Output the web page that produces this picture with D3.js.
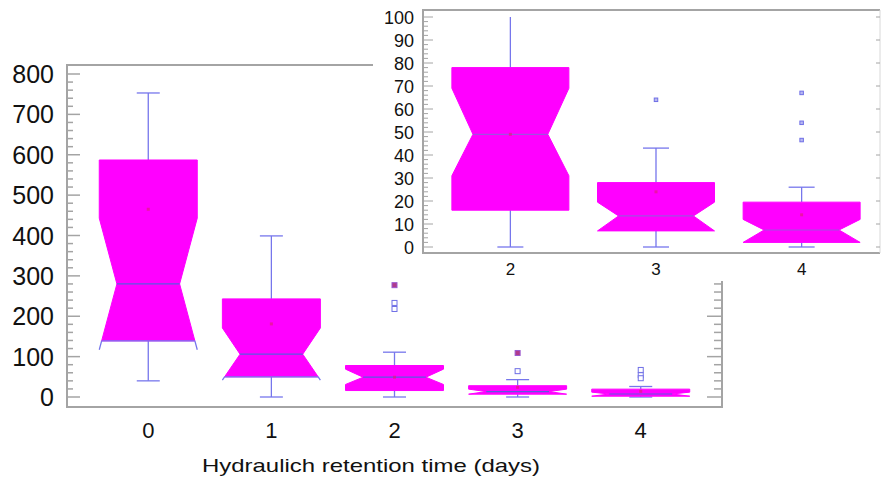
<!DOCTYPE html>
<html lang="en">
<head>
  <meta charset="UTF-8">
  <title>Notched box plot with inset</title>
  <script src="https://d3js.org/d3.v7.min.js"></script>
  <style>
    body { margin: 0; background: #fff; }
    svg { display: block; font-family: "Liberation Sans", Arial, sans-serif; }
  </style>
</head>
<body>
  <svg width="884" height="490"></svg>
  <script>
    // values, one entry per retention time
    const categories = ["0", "1", "2", "3", "4"];
    const q1 = [139, 50, 16, 7, 2];
    const medians = [280, 106, 49, 13.5, 7.4];
    const q3 = [587, 243, 78, 28, 19.5];
    const whiskerLow = [40, 0, 0, 0, 0];
    const whiskerHigh = [753, 399, 111, 43, 26];
    const notchLow = [117, 42, 31, 7, 2];
    const notchHigh = [443, 171, 69, 19.5, 12];
    const means = [465, 181, 49, 24, 14];
    const outliers = [[], [], [233, 218], [64], [67, 54, 46.5]];
    const farOutliers = [[], [], [277], [109], []];

    const insetCategories = ["2", "3", "4"];
    const mainTicks = [0, 100, 200, 300, 400, 500, 600, 700, 800];
    const insetTicks = [0, 10, 20, 30, 40, 50, 60, 70, 80, 90, 100];
    const xTitle = "Hydraulich retention time (days)";

    const rows = categories.map((c, i) => ({
      cat: c, q1: q1[i], med: medians[i], q3: q3[i],
      lo: whiskerLow[i], hi: whiskerHigh[i],
      nLo: notchLow[i], nHi: notchHigh[i], mean: means[i],
      out: outliers[i], far: farOutliers[i]
    }));

    const svg = d3.select("svg");
    const MAG = "#ff00ff", BLUE = "#7676ec", AXIS = "#a4a4a4";

    function drawBox(g, d, x, y, halfW, capW, style) {
      const cx = x(d.cat);
      const xL = cx - halfW, xR = cx + halfW, ind = halfW * 0.36;
      const yQ3 = y(d.q3), yQ1 = y(d.q1), yM = y(d.med);
      const yNh = y(d.nHi), yNl = y(d.nLo);

      // whiskers
      const wg = g.append("g").attr("stroke", BLUE).attr("stroke-width", 1.3);
      wg.append("line").attr("x1", cx).attr("x2", cx).attr("y1", yQ3).attr("y2", y(d.hi));
      wg.append("line").attr("x1", cx).attr("x2", cx).attr("y1", yQ1).attr("y2", y(d.lo));
      wg.append("line").attr("x1", cx - capW).attr("x2", cx + capW).attr("y1", y(d.hi)).attr("y2", y(d.hi));
      wg.append("line").attr("x1", cx - capW).attr("x2", cx + capW).attr("y1", y(d.lo)).attr("y2", y(d.lo));

      // lower end of the notch may fall below Q1
      let xRq = xR, xLq = xL, yBot = yNl;
      if (d.nLo < d.q1) {
        const t = (yQ1 - yM) / (yNl - yM);
        xRq = xR - ind + ind * t;
        xLq = xL + ind - ind * t;
        yBot = yQ1;
      }
      const pts = [[xL, yQ3], [xR, yQ3], [xR, yNh], [xR - ind, yM], [xRq, yBot],
                   [xLq, yBot], [xL + ind, yM], [xL, yNh]];
      if (d.nLo >= d.q1) pts.splice(5, 0, [xL, yQ1]), pts.splice(5, 0, [xR, yQ1]);
      g.append("polygon").attr("points", pts.map(p => p.join(",")).join(" "))
        .attr("fill", MAG).attr("stroke", MAG).attr("stroke-width", 1);

      g.append("line").attr("x1", xL + ind).attr("x2", xR - ind).attr("y1", yM).attr("y2", yM)
        .attr("stroke", style.median).attr("stroke-width", 1.2);
      if (d.nLo < d.q1) {
        g.append("line").attr("x1", xLq).attr("x2", xRq).attr("y1", yQ1).attr("y2", yQ1)
          .attr("stroke", BLUE).attr("stroke-width", 1.3);
        g.append("path").attr("d", `M${xRq},${yQ1}L${xR},${yNl}M${xLq},${yQ1}L${xL},${yNl}`)
          .attr("stroke", BLUE).attr("stroke-width", 1.3).attr("fill", "none");
      }

      // mean marker
      g.append("rect").attr("x", cx - 1.5).attr("y", y(d.mean) - 1.5).attr("width", 3).attr("height", 3)
        .attr("fill", "#e0206a").attr("opacity", 0.6);

      // outliers
      const s = style.pt;
      d.out.forEach(v => {
        g.append("rect").attr("x", cx - s / 2).attr("y", y(v) - s / 2).attr("width", s).attr("height", s)
          .attr("fill", style.openFill).attr("stroke", "#6f6fe6").attr("stroke-width", 1);
      });
      d.far.forEach(v => {
        g.append("rect").attr("x", cx - s / 2).attr("y", y(v) - s / 2).attr("width", s).attr("height", s)
          .attr("fill", "#b03a8c").attr("stroke", "#9a5ad0").attr("stroke-width", 1);
      });
    }

    // ---------- main chart ----------
    const M = {left: 67, right: 722, top: 65, bottom: 407};
    const x = d3.scalePoint().domain(categories).range([M.left, M.right]).padding(0.66);
    const y = d3.scaleLinear().domain([0, 800]).range([397, 74]);

    const main = svg.append("g");
    const frame = main.append("g").attr("stroke", AXIS).attr("stroke-width", 2).attr("fill", "none");
    frame.append("path").attr("d", `M${M.right},${M.top}H${M.left}V${M.bottom}H${M.right}V${M.top}`);

    const minor = d3.range(0, 801, 20);
    main.append("g").selectAll("line").data(minor).join("line")
      .attr("x1", M.left).attr("x2", d => M.left + (d % 100 === 0 ? 13 : 6))
      .attr("y1", d => y(d)).attr("y2", d => y(d))
      .attr("stroke", AXIS).attr("stroke-width", 1.5);
    main.append("g").selectAll("line").data(minor).join("line")
      .attr("x1", M.right).attr("x2", d => M.right - (d % 100 === 0 ? 15 : 8))
      .attr("y1", d => y(d)).attr("y2", d => y(d))
      .attr("stroke", AXIS).attr("stroke-width", 1.5);

    main.append("g").selectAll("text").data(mainTicks).join("text")
      .attr("x", 54).attr("y", d => y(d) + 9)
      .attr("text-anchor", "end").attr("font-size", 25).attr("fill", "#111")
      .text(d => d);
    main.append("g").selectAll("text").data(categories).join("text")
      .attr("x", d => x(d)).attr("y", 438)
      .attr("text-anchor", "middle").attr("font-size", 22).attr("fill", "#111")
      .text(d => d);
    // title in the picture is a little wider than the font, so stretch it
    main.append("text").attr("x", 202).attr("y", 472)
      .attr("font-size", 19).attr("fill", "#111")
      .attr("textLength", 338).attr("lengthAdjust", "spacingAndGlyphs")
      .text(xTitle);

    rows.forEach(d => drawBox(main, d, x, y, 49, 11.5,
      {median: "#5a5ae0", pt: 5, openFill: "#fff"}));

    // ---------- inset ----------
    const I = {left: 423, right: 880, top: 10, bottom: 253};
    const xi = d3.scalePoint().domain(insetCategories).range([I.left, 889]).padding(0.6);
    const yi = d3.scaleLinear().domain([0, 100]).range([247, 17]);

    const inset = svg.append("g");
    inset.append("rect").attr("x", 373).attr("y", 0).attr("width", 511).attr("height", 281).attr("fill", "#fff");
    svg.append("defs").append("clipPath").attr("id", "insetClip")
      .append("rect").attr("x", I.left).attr("y", yi(100)).attr("width", I.right - I.left).attr("height", I.bottom - yi(100));

    inset.append("path").attr("d", `M${I.right},${I.top}H${I.left}V${I.bottom}H${I.right}`)
      .attr("stroke", AXIS).attr("stroke-width", 2).attr("fill", "none");
    inset.append("line").attr("x1", I.right).attr("x2", I.right).attr("y1", I.top).attr("y2", I.bottom)
      .attr("stroke", "#d8d8d8").attr("stroke-width", 1);

    const minorI = d3.range(0, 101, 2);
    inset.append("g").selectAll("line").data(minorI).join("line")
      .attr("x1", I.left).attr("x2", d => I.left + (d % 10 === 0 ? 10 : 5))
      .attr("y1", d => yi(d)).attr("y2", d => yi(d))
      .attr("stroke", AXIS).attr("stroke-width", 1);
    inset.append("g").selectAll("line").data(insetTicks).join("line")
      .attr("x1", I.right).attr("x2", I.right - 4)
      .attr("y1", d => yi(d)).attr("y2", d => yi(d))
      .attr("stroke", AXIS).attr("stroke-width", 1);

    inset.append("g").selectAll("text").data(insetTicks).join("text")
      .attr("x", 414).attr("y", d => yi(d) + 6.5)
      .attr("text-anchor", "end").attr("font-size", 18).attr("fill", "#111")
      .text(d => d);
    inset.append("g").selectAll("text").data(insetCategories).join("text")
      .attr("x", d => xi(d)).attr("y", 275)
      .attr("text-anchor", "middle").attr("font-size", 17).attr("fill", "#111")
      .text(d => d);

    const insetPlot = inset.append("g").attr("clip-path", "url(#insetClip)");
    rows.filter(d => insetCategories.includes(d.cat)).forEach(d =>
      drawBox(insetPlot, d, xi, yi, 58.5, 13,
        {median: "#a050e0", pt: 3.5, openFill: "#b8b8f0"}));
  </script>
</body>
</html>
